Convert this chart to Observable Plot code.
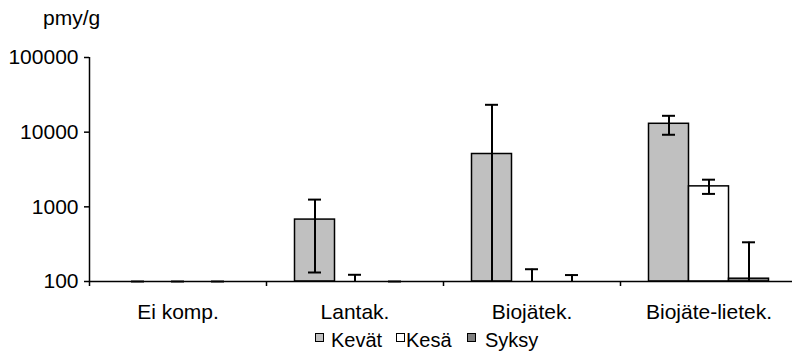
<!DOCTYPE html>
<html><head><meta charset="utf-8">
<script src="https://cdn.jsdelivr.net/npm/d3@7"></script>
<script src="https://cdn.jsdelivr.net/npm/@observablehq/plot@0.6"></script>
<style>
body{margin:0;background:#fff;font-family:"Liberation Sans",Arial,sans-serif;color:#000}
#wrap{position:relative;width:792px;height:351px;overflow:hidden;background:#fff}
#chart{position:absolute;left:0;top:0}
.txt{position:absolute;font-size:20px;line-height:20px;white-space:nowrap}
.sw{position:absolute;width:7px;height:7px;border:1px solid #000;top:333px}
</style></head><body>
<div id="wrap">
  <div id="chart"></div>
  <div class="txt" style="left:43px;top:8px;font-size:21px">pmy/g</div>
  <div id="legend"></div>
</div>
<script>
// Categories and series
const categories = ["Ei komp.", "Lantak.", "Biojätek.", "Biojäte-lietek."];
const seasons = ["Kevät", "Kesä", "Syksy"];
const seasonColors = ["#c0c0c0", "#ffffff", "#808080"];

// Mean values (pmy/g); values below 100 fall under the log axis floor
const kevat = [0, 675, 5100, 12950];
const kesa  = [0, 0, 0, 1880];
const syksy = [0, 0, 0, 109];

// Error bar upper ends
const kevatHi = [0, 1250, 23250, 16560];
const kesaHi  = [0, 123, 146, 2310];
const syksyHi = [0, 0, 122, 335];

// Error bar lower ends
const kevatLo = [0, 132, 0, 9230];
const kesaLo  = [0, 0, 0, 1490];
const syksyLo = [0, 0, 0, 0];

// Y tick values
const yTicks = [100, 1000, 10000, 100000];

const means = [kevat, kesa, syksy];
const highs = [kevatHi, kesaHi, syksyHi];
const lows = [kevatLo, kesaLo, syksyLo];

const rows = [];
categories.forEach((cat, i) => {
  seasons.forEach((season, j) => {
    rows.push({cat, i, season, j, value: means[j][i], hi: highs[j][i], lo: lows[j][i]});
  });
});

const FLOOR = yTicks[0];
const BAR = 40 / 177;   // bar width in group units
const CAP = 13 / 177;   // error cap width in group units
const center = d => d.i + 0.5 + (d.j - 1) * BAR;

const chart = Plot.plot({
  width: 792,
  height: 330,
  marginLeft: 89,
  marginRight: -5,
  marginTop: 57,
  marginBottom: 49,
  style: {fontFamily: "Liberation Sans, Arial, sans-serif", fontSize: "21px", color: "#000", background: "#fff"},
  x: {type: "linear", domain: [0, categories.length], axis: null},
  y: {type: "log", domain: [FLOOR, yTicks[yTicks.length - 1]], axis: null},
  color: {domain: seasons, range: seasonColors},
  marks: [
    Plot.rectY(rows.filter(d => d.value > FLOOR), {
      x1: d => center(d) - BAR / 2,
      x2: d => center(d) + BAR / 2,
      y1: FLOOR,
      y2: "value",
      fill: "season",
      stroke: "#000",
      strokeWidth: 1.5
    }),
    Plot.ruleX(rows, {
      x: center,
      y1: d => Math.max(d.lo, FLOOR),
      y2: d => Math.max(d.hi, FLOOR),
      stroke: "#000",
      strokeWidth: 2
    }),
    Plot.ruleY(rows, {
      y: d => Math.max(d.hi, FLOOR),
      x1: d => center(d) - CAP / 2,
      x2: d => center(d) + CAP / 2,
      stroke: "#000",
      strokeWidth: 2
    }),
    Plot.ruleY(rows.filter(d => d.lo > FLOOR), {
      y: "lo",
      x1: d => center(d) - CAP / 2,
      x2: d => center(d) + CAP / 2,
      stroke: "#000",
      strokeWidth: 2
    }),
    Plot.ruleY([FLOOR], {stroke: "#000", strokeWidth: 1.5}),
    Plot.ruleX([0], {y1: FLOOR, y2: yTicks[yTicks.length - 1], stroke: "#000", strokeWidth: 1.5}),
    Plot.axisY({
      ticks: yTicks,
      tickFormat: d => String(d),
      tickSize: 5,
      tickPadding: 6,
      strokeWidth: 1.5,
      label: null
    }),
    Plot.axisX({
      ticks: d3.range(categories.length + 1),
      tickFormat: () => "",
      tickSize: 5,
      strokeWidth: 1.5,
      label: null
    }),
    Plot.axisX({
      ticks: categories.map((c, i) => i + 0.5),
      tickFormat: d => categories[Math.floor(d)],
      tickSize: 0,
      tickPadding: 23,
      label: null
    })
  ]
});
document.getElementById("chart").appendChild(chart);

// Legend
const legendSwatchX = [315, 396, 467];
const legendTextX = [331, 406, 485];
const legend = document.getElementById("legend");
seasons.forEach((s, j) => {
  const sw = document.createElement("div");
  sw.className = "sw";
  sw.style.left = legendSwatchX[j] + "px";
  sw.style.background = seasonColors[j];
  legend.appendChild(sw);
  const t = document.createElement("div");
  t.className = "txt";
  t.style.left = legendTextX[j] + "px";
  t.style.top = "330px";
  t.textContent = s;
  legend.appendChild(t);
});
</script>
</body></html>
